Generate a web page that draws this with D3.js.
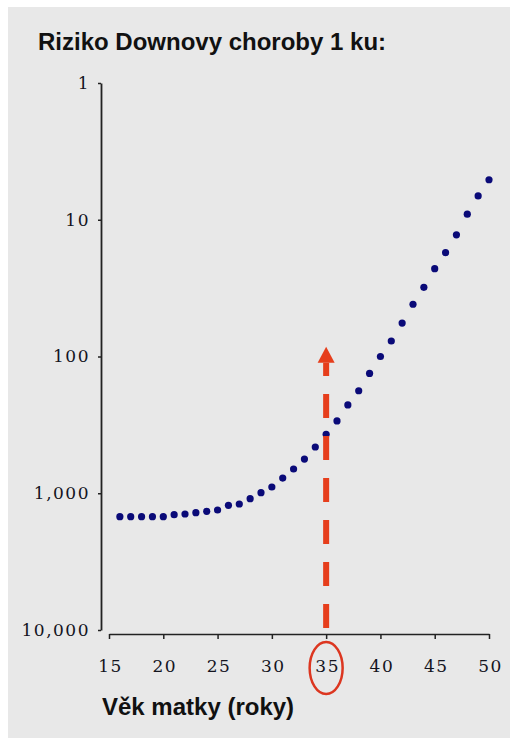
<!DOCTYPE html>
<html>
<head>
<meta charset="utf-8">
<script src="https://cdn.jsdelivr.net/npm/d3@7"></script>
<style>
  body { margin: 0; background: #fff; }
</style>
</head>
<body>
<script>
let width = 510
let height = 738

// vek matky (roky) a riziko 1 : n
let ages = [16, 17, 18, 19, 20, 21, 22, 23, 24, 25, 26, 27, 28, 29, 30, 31, 32, 33,
  34, 35, 36, 37, 38, 39, 40, 41, 42, 43, 44, 45, 46, 47, 48, 49, 50]
let risk = [1484, 1484, 1484, 1484, 1484, 1435, 1418, 1388, 1355, 1326, 1225, 1198,
  1096, 991, 900, 774, 665, 562, 459, 371, 296, 226, 178, 133, 100, 77, 57, 41.5,
  31.2, 22.8, 17.4, 12.9, 9.1, 6.7, 5.1]

let xTicks = [15, 20, 25, 30, 35, 40, 45, 50]
let yTicks = [1, 10, 100, 1000, 10000]

// sipka nahoru od 35 let
let arrowAge = 35
let arrowFrom = 10000
let arrowTo = 85

let svg = d3.select('body')
  .append('svg')
  .attr('width', width)
  .attr('height', height)

svg.append('rect')
  .attr('x', 8)
  .attr('y', 7)
  .attr('width', width - 8)
  .attr('height', height - 7)
  .attr('fill', '#e8e8e8')

let x = d3.scaleLinear()
  .domain([15, 50])
  .range([109, 489])

let y = d3.scaleLog()
  .domain([1, 10000])
  .range([83, 630])

// osa y
let yAxis = svg.append('g')
  .attr('transform', 'translate(101,0)')
  .call(d3.axisLeft(y).tickValues(yTicks).tickFormat(d3.format(',')).tickSize(3).tickSizeOuter(0))

yAxis.select('.domain').attr('stroke', '#222').attr('stroke-width', 1.8)
yAxis.selectAll('.tick line').attr('stroke', '#222').attr('stroke-width', 1.5)
yAxis.selectAll('text')
  .attr('x', -11)
  .attr('fill', '#14141e')
  .style('font-family', 'Georgia, "DejaVu Serif", serif')
  .style('font-size', '17px')
  .style('letter-spacing', '1.5px')

// osa x
let xAxis = svg.append('g')
  .attr('transform', 'translate(0,634)')
  .call(d3.axisBottom(x).tickValues(xTicks).tickSize(5).tickSizeOuter(0))

xAxis.select('.domain').attr('stroke', '#222').attr('stroke-width', 1.5)
xAxis.selectAll('.tick line').attr('stroke', '#222').attr('stroke-width', 1.5)
xAxis.selectAll('text')
  .attr('y', 38)
  .attr('dy', 0)
  .attr('dx', 1)
  .attr('fill', '#14141e')
  .style('font-family', 'Georgia, "DejaVu Serif", serif')
  .style('font-size', '17px')
  .style('letter-spacing', '1.5px')

// body
svg.append('g')
  .selectAll('circle')
  .data(ages)
  .enter()
  .append('circle')
  .attr('cx', d => x(d))
  .attr('cy', (d, i) => y(risk[i]))
  .attr('r', 3.6)
  .attr('fill', '#0a0a78')

// cervena prerusovana sipka
let ax = x(arrowAge)
let yTop = y(arrowTo)
let headLen = 16

svg.append('line')
  .attr('x1', ax)
  .attr('x2', ax)
  .attr('y1', y(arrowFrom) - 2)
  .attr('y2', yTop + headLen)
  .attr('stroke', '#e63e1c')
  .attr('stroke-width', 6)
  .attr('stroke-dasharray', '24,18')

svg.append('path')
  .attr('d', `M${ax},${yTop} L${ax + 8.5},${yTop + headLen} L${ax - 8.5},${yTop + headLen} Z`)
  .attr('fill', '#e63e1c')

// krouzek kolem 35
svg.append('ellipse')
  .attr('cx', ax)
  .attr('cy', 668)
  .attr('rx', 16.5)
  .attr('ry', 26)
  .attr('fill', 'none')
  .attr('stroke', '#dc3620')
  .attr('stroke-width', 2.5)

// popisky
svg.append('text')
  .attr('x', 38)
  .attr('y', 50)
  .attr('fill', '#111')
  .style('font-family', 'Arial, "Liberation Sans", sans-serif')
  .style('font-weight', 'bold')
  .style('font-size', '24px')
  .text('Riziko Downovy choroby 1 ku:')

svg.append('text')
  .attr('x', 102)
  .attr('y', 715)
  .attr('fill', '#111')
  .style('font-family', 'Arial, "Liberation Sans", sans-serif')
  .style('font-weight', 'bold')
  .style('font-size', '24px')
  .text('Věk matky (roky)')
</script>
</body>
</html>
